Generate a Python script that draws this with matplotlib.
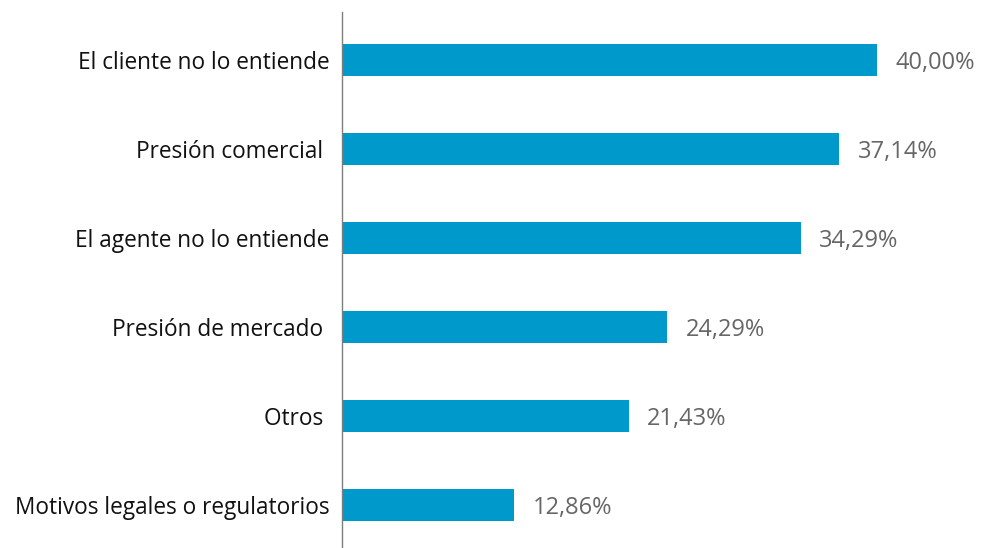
import matplotlib
matplotlib.use("Agg")
import matplotlib.pyplot as plt

categories = ["El cliente no lo entiende", "Presión comercial ", "El agente no lo entiende",
              "Presión de mercado ", "Otros ", "Motivos legales o regulatorios"]
values = [40.00, 37.14, 34.29, 24.29, 21.43, 12.86]
value_labels = ["40,00%", "37,14%", "34,29%", "24,29%", "21,43%", "12,86%"]

plt.rcParams['font.family'] = ['Open Sans', 'DejaVu Sans']

fig = plt.figure(figsize=(9.82, 5.48), dpi=100)
ax = fig.add_axes([342/982, 0, 640/982, 1 - 12/548])

n = len(categories)
ypos = list(range(n - 1, -1, -1))
ax.barh(ypos, values, height=0.36, color="#0099CC")
for y, v, lab in zip(ypos, values, value_labels):
    ax.text(v + 1.4, y - 0.03, lab, va="center", ha="left", fontsize=17, color="#666666")

ax.set_yticks(ypos)
ax.set_yticklabels(categories, fontsize=16.3, color="#111111")
ax.tick_params(axis="y", length=0, pad=9)
ax.set_xticks([])
ax.set_xlim(0, 47.85)
ax.set_ylim(-0.48, 5.54)
for s in ["top", "right", "bottom"]:
    ax.spines[s].set_visible(False)
ax.spines["left"].set_color("#7f7f7f")
ax.spines["left"].set_linewidth(1.0)

fig.savefig("out.png", dpi=100)
